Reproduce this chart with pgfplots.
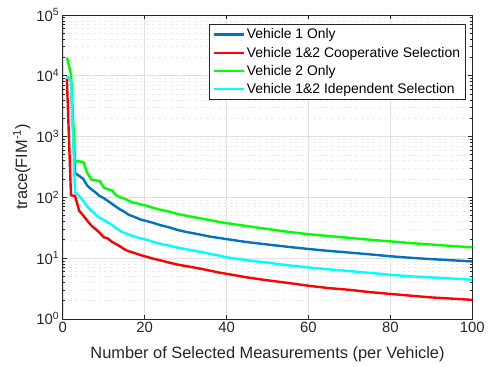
\documentclass[border=0pt]{standalone}
\usepackage{pgfplots}
\pgfplotsset{compat=1.18}
\usepackage{pgfplotstable}
\usepackage{fontspec}
\setmainfont{Liberation Sans}
\definecolor{mblue}{rgb}{0,0.447,0.741}
\definecolor{mred}{rgb}{1,0,0}
\definecolor{mgreen}{rgb}{0,1,0}
\definecolor{mcyan}{rgb}{0,1,1}
\definecolor{axgray}{rgb}{0.15,0.15,0.15}

\pgfplotstableread{
x y
1 9700
2 8100
3 250
4 225
5 200
6 155
7 135
8 120
9 105
10 97
11 87
12 78
13 70
14 63
15 58
16 52
17 49
18 46
19 43
20 41.5
22 38
24 34.5
26 32
28 29
30 27
32 25.5
34 24
36 22.5
38 21.5
40 20.5
45 18.3
50 16.7
55 15.3
60 14.1
65 13.1
70 12.3
75 11.5
80 10.7
85 10.1
90 9.6
95 9.2
100 8.8
}\vone

\pgfplotstableread{
x y
1 9000
2 108
3 105
4 60
5 50
6 41
7 34
8 30
9 26
10 22
11 21
12 18.5
13 17
14 15.5
15 14
16 13
17 12.4
18 11.8
19 11.2
20 10.7
22 9.8
24 9.1
26 8.4
28 7.8
30 7.4
32 7.0
34 6.6
36 6.2
38 5.8
40 5.5
45 4.8
50 4.3
55 3.9
60 3.5
65 3.2
70 3.0
75 2.75
80 2.57
85 2.4
90 2.25
95 2.15
100 2.05
}\coop

\pgfplotstableread{
x y
1 20000
2 10500
3 390
4 390
5 380
6 250
7 195
8 190
9 185
10 145
11 135
12 130
13 108
14 100
15 95
16 88
17 82
18 80
19 76
20 74
22 67
24 62
26 58
28 53
30 50
32 47
34 44.5
36 42
38 39.5
40 37.5
45 33.5
50 30
55 27
60 24.7
65 23
70 21.5
75 20
80 18.8
85 17.6
90 16.7
95 15.8
100 15.0
}\vtwo

\pgfplotstableread{
x y
1 9700
2 8100
3 120
4 105
5 87
6 70
7 60
8 52
9 46
10 42
11 38.5
12 35
13 31
14 28
15 26
16 24.5
17 23.2
18 22
19 21
20 20.5
22 18.5
24 17
26 16
28 14.8
30 14
32 13.2
34 12.5
36 11.7
38 11
40 10.3
45 9.2
50 8.4
55 7.6
60 7.0
65 6.5
70 6.1
75 5.7
80 5.3
85 5.0
90 4.8
95 4.6
100 4.4
}\indep

\begin{document}
\begin{tikzpicture}
\begin{axis}[
  name=ax,
  scale only axis,
  width=411bp, height=305bp,
  ymode=log,
  xmin=0, xmax=100, ymin=1, ymax=100000,
  xtick={0,20,40,60,80,100},
  ytick={1,10,100,1000,10000,100000},
  yticklabels={10\textsuperscript{0},10\textsuperscript{1},10\textsuperscript{2},10\textsuperscript{3},10\textsuperscript{4},10\textsuperscript{5}},
  /pgf/number format/assume math mode=true,
  tick label style={font=\fontsize{15}{18}\selectfont, text=axgray},
  axis line style={axgray, line width=0.6bp},
  tick style={axgray, line width=0.6bp},
  tick align=inside,
  major tick length=4bp,
  minor tick length=2.5bp,
  xtick pos=both, ytick pos=both,
  grid=both,
  major grid style={gray!25, line width=0.5bp},
  minor grid style={gray!14, dashed, line width=0.5bp},
  xlabel={Number of Selected Measurements (per Vehicle)},
  ylabel={trace(FIM\textsuperscript{-1})},
  label style={font=\fontsize{16.5}{19}\selectfont, text=axgray},
  xlabel style={at={(axis description cs:0.5,-0.115)}, anchor=center},
  ylabel style={at={(axis description cs:-0.1,0.5)}, anchor=center},
  legend style={at={(axis description cs:0.983,0.970)}, anchor=north east,
    font=\fontsize{14}{16}\selectfont, draw=axgray, line width=0.6bp,
    row sep=2.6bp, inner xsep=3bp, inner ysep=2.5bp,
    legend cell align=left},
  legend image code/.code={\draw[#1, line width=2.4bp] (0bp,0bp) -- (30bp,0bp);},
  every axis plot/.append style={line width=2.4bp},
]
\addplot[mblue] table {\vone};
\addlegendentry{Vehicle 1 Only}
\addplot[mred] table {\coop};
\addlegendentry{Vehicle 1\&2 Cooperative Selection}
\addplot[mgreen] table {\vtwo};
\addlegendentry{Vehicle 2 Only}
\addplot[mcyan] table {\indep};
\addlegendentry{Vehicle 1\&2 Idependent Selection}
\end{axis}
\path ([shift={(-63bp,-48bp)}]ax.south west) rectangle ([shift={(14bp,15bp)}]ax.north east);
\end{tikzpicture}
\end{document}
